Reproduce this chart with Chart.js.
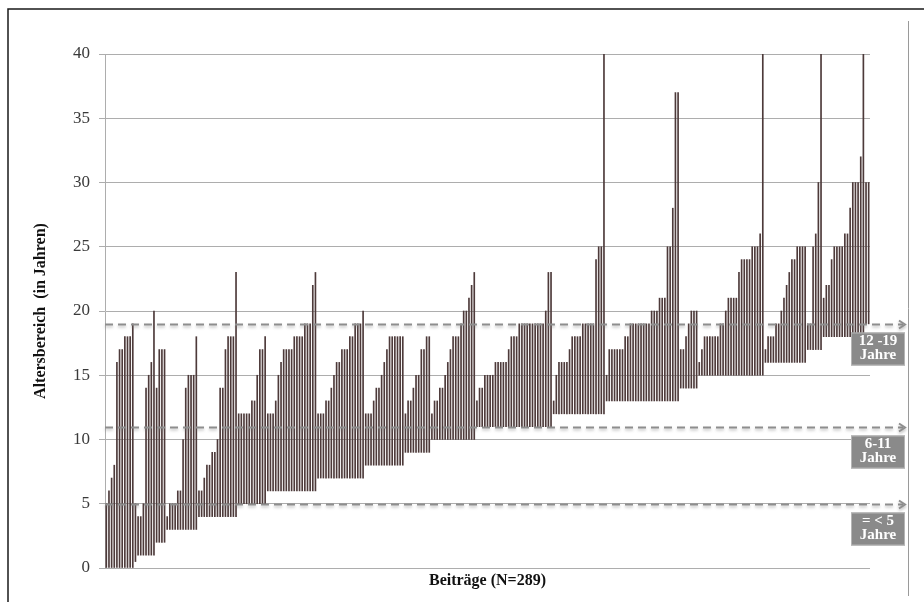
<!DOCTYPE html>
<html>
<head>
<meta charset="utf-8">
<script src="https://cdn.jsdelivr.net/npm/chart.js@4/dist/chart.umd.min.js"></script>
<style>
  html, body { margin: 0; padding: 0; background: #fff; }
  canvas { display: block; }
</style>
</head>
<body>
<canvas id="ageChart" width="924" height="602"></canvas>
<script>
// lower age of each group of contributions (sorted by lower, then upper age)
const groupMin = [0, 0.5, 1, 2, 3, 4, 5, 6, 7, 8, 9, 10, 11, 12, 13, 14, 15, 16, 17, 18, 19];
// upper ages of the contributions in each group
const groupMax = [
  [5, 6, 7, 8, 16, 17, 17, 18, 18, 18, 19],
  [5],
  [4, 4, 5, 14, 15, 16, 20],
  [14, 17, 17, 17],
  [4, 5, 5, 5, 6, 6, 10, 14, 15, 15, 15, 18],
  [6, 6, 7, 8, 8, 9, 9, 10, 14, 14, 17, 18, 18, 18, 23],
  [12, 12, 12, 12, 12, 13, 13, 15, 17, 17, 18],
  [12, 12, 12, 13, 15, 16, 17, 17, 17, 17, 18, 18, 18, 18, 19, 19, 19, 22, 23],
  [12, 12, 12, 13, 13, 14, 15, 16, 16, 17, 17, 17, 18, 18, 19, 19, 19, 20],
  [12, 12, 12, 13, 14, 14, 15, 16, 17, 18, 18, 18, 18, 18, 18],
  [12, 13, 13, 14, 15, 15, 17, 17, 18, 18],
  [12, 13, 13, 14, 14, 15, 16, 17, 18, 18, 18, 19, 20, 20, 21, 22, 23],
  [13, 14, 14, 15, 15, 15, 15, 16, 16, 16, 16, 16, 17, 18, 18, 18, 19, 19, 19, 19, 19, 19, 19, 19, 19, 19, 20, 23, 23],
  [13, 15, 16, 16, 16, 16, 17, 18, 18, 18, 18, 19, 19, 19, 19, 19, 24, 25, 25, 40],
  [15, 17, 17, 17, 17, 17, 17, 18, 18, 19, 19, 19, 19, 19, 19, 19, 19, 20, 20, 20, 21, 21, 21, 25, 25, 28, 37, 37],
  [17, 17, 18, 19, 20, 20, 20],
  [16, 17, 18, 18, 18, 18, 18, 18, 19, 19, 20, 21, 21, 21, 21, 23, 24, 24, 24, 24, 25, 25, 25, 26, 40],
  [17, 18, 18, 18, 19, 19, 20, 21, 22, 23, 24, 24, 25, 25, 25, 25],
  [19, 19, 25, 26, 30, 40],
  [21, 22, 22, 24, 25, 25, 25, 25, 26, 26, 28, 30, 30, 30, 32, 40],
  [30, 30]
];
// age bands marked with dashed arrows
const bandLevels = [19, 11, 5];
const bandLabels = [['12 -19', 'Jahre'], ['6-11', 'Jahre'], ['= < 5', 'Jahre']];
const yTicks = [0, 5, 10, 15, 20, 25, 30, 35, 40];

const ranges = [];
groupMin.forEach((lo, g) => {
  groupMax[g].forEach(hi => ranges.push([lo, hi]));
});
const labels = ranges.map((r, i) => String(i + 1));

const serif = '"Liberation Serif", "DejaVu Serif", serif';

const decorations = {
  id: 'decorations',
  beforeDraw(chart) {
    const ctx = chart.ctx;
    ctx.save();
    ctx.fillStyle = '#ffffff';
    ctx.fillRect(0, 0, chart.width, chart.height);
    ctx.strokeStyle = '#1a1a1a';
    ctx.lineWidth = 1.5;
    ctx.beginPath();
    ctx.moveTo(8, 602);
    ctx.lineTo(8, 9);
    ctx.lineTo(924, 9);
    ctx.stroke();
    ctx.strokeStyle = '#9a9a9a';
    ctx.lineWidth = 1;
    ctx.beginPath();
    ctx.moveTo(908.5, 21);
    ctx.lineTo(908.5, 596);
    ctx.stroke();
    ctx.restore();
  },
  afterDatasetsDraw(chart) {
    const ctx = chart.ctx;
    const y = chart.scales.y;
    const left = chart.chartArea.left;
    bandLevels.forEach((v, i) => {
      const py = Math.round(y.getPixelForValue(v)) + 0.5;
      ctx.save();
      ctx.strokeStyle = '#8e8e8e';
      ctx.lineWidth = 2;
      ctx.shadowColor = 'rgba(120,120,120,0.45)';
      ctx.shadowBlur = 3;
      ctx.shadowOffsetY = 2;
      ctx.setLineDash([8, 5]);
      ctx.beginPath();
      ctx.moveTo(left, py);
      ctx.lineTo(903, py);
      ctx.stroke();
      ctx.setLineDash([]);
      ctx.beginPath();
      ctx.moveTo(899, py - 4);
      ctx.lineTo(905, py);
      ctx.lineTo(899, py + 4);
      ctx.stroke();
      ctx.restore();

      ctx.save();
      const bx = 851, by = py + 8, bw = 54, bh = 33;
      ctx.fillStyle = '#8a8a8a';
      ctx.fillRect(bx, by, bw, bh);
      ctx.strokeStyle = '#b5b5b5';
      ctx.lineWidth = 1;
      ctx.strokeRect(bx + 0.5, by + 0.5, bw - 1, bh - 1);
      ctx.fillStyle = '#ffffff';
      ctx.font = 'bold 15px ' + serif;
      ctx.textAlign = 'center';
      ctx.textBaseline = 'middle';
      ctx.fillText(bandLabels[i][0], bx + bw / 2, by + 9);
      ctx.fillText(bandLabels[i][1], bx + bw / 2, by + 23);
      ctx.restore();
    });
  }
};

new Chart(document.getElementById('ageChart').getContext('2d'), {
  type: 'bar',
  data: {
    labels: labels,
    datasets: [{
      label: 'Altersbereich',
      data: ranges,
      backgroundColor: '#4d3a3a',
      borderWidth: 0,
      borderSkipped: false,
      barThickness: 1
    }]
  },
  options: {
    responsive: false,
    animation: false,
    layout: { padding: { left: 0, right: 54, top: 54, bottom: 0 } },
    plugins: {
      legend: { display: false },
      tooltip: { enabled: false }
    },
    scales: {
      x: {
        grid: { display: false },
        border: { display: false },
        ticks: { display: false },
        title: {
          display: true,
          text: 'Beiträge (N=289)',
          color: '#111',
          font: { family: serif, size: 16, weight: 'bold' },
          padding: { top: 0, bottom: 12 }
        },
        afterFit(scale) { scale.height = 34; }
      },
      y: {
        min: 0,
        max: 40,
        afterBuildTicks(scale) { scale.ticks = yTicks.map(v => ({ value: v })); },
        grid: { color: '#adadad', lineWidth: 1, tickLength: 6 },
        border: { display: true, color: '#adadad' },
        ticks: {
          color: '#3a3a3a',
          padding: 9,
          font: { family: serif, size: 17 }
        },
        title: {
          display: true,
          text: 'Altersbereich  (in Jahren)',
          color: '#111',
          font: { family: serif, size: 16, weight: 'bold' },
          padding: { top: 31, bottom: 0 }
        },
        afterFit(scale) { scale.width = 105; }
      }
    }
  },
  plugins: [decorations]
});
</script>
</body>
</html>
